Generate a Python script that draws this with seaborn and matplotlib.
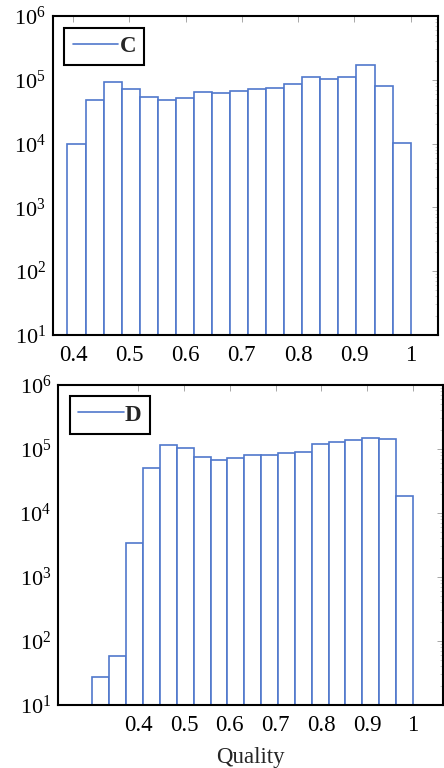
import numpy as np
import pandas as pd
import matplotlib
matplotlib.use("Agg")
import matplotlib.pyplot as plt
from matplotlib.lines import Line2D
from matplotlib.ticker import LogLocator, NullFormatter
import seaborn as sns

# Histogram counts per quality bin
c_edges = np.linspace(0.39, 1.0, 20)
c_counts = [1.0e4, 4.9e4, 9.2e4, 7.1e4, 5.4e4, 4.9e4, 5.2e4, 6.5e4, 6.2e4, 6.6e4,
            7.2e4, 7.5e4, 8.6e4, 1.09e5, 1.03e5, 1.12e5, 1.7e5, 7.9e4, 1.03e4]

d_edges = np.linspace(0.30, 1.0, 20)
d_counts = [27, 58, 3.4e3, 5.0e4, 1.13e5, 1.02e5, 7.4e4, 6.7e4, 7.3e4, 8.0e4,
            8.1e4, 8.5e4, 8.9e4, 1.21e5, 1.28e5, 1.35e5, 1.5e5, 1.42e5, 1.86e4]

x_ticks = [0.4, 0.5, 0.6, 0.7, 0.8, 0.9, 1.0]
x_tick_labels = ["0.4", "0.5", "0.6", "0.7", "0.8", "0.9", "1"]

sns.set_theme(style="white")
plt.rcParams["font.family"] = ["Liberation Serif", "DejaVu Serif"]
plt.rcParams["mathtext.fontset"] = "custom"
plt.rcParams["mathtext.rm"] = "Liberation Serif"
plt.rcParams["mathtext.default"] = "regular"

BLUE = "#5078cc"
FS = 16.5

fig = plt.figure(figsize=(4.44, 7.68), dpi=100)
ax_c = fig.add_axes([0.119, 0.564, 0.868, 0.415])
ax_d = fig.add_axes([0.131, 0.082, 0.866, 0.417])


def draw_panel(ax, edges, counts, label, xlim):
    centers = (edges[:-1] + edges[1:]) / 2
    df = pd.DataFrame({"quality": centers, "count": np.asarray(counts, dtype=float)})
    sns.histplot(data=df, x="quality", weights="count", bins=list(edges), ax=ax,
                 stat="count", element="bars", fill=True,
                 facecolor="white", edgecolor=BLUE, linewidth=1.2, alpha=1)
    ax.set_yscale("log")
    ax.set_ylim(10, 1e6)
    ax.set_xlim(*xlim)
    ax.set_xticks(x_ticks)
    ax.set_xticklabels(x_tick_labels)
    ax.yaxis.set_major_locator(LogLocator(base=10, numticks=10))
    ax.yaxis.set_minor_locator(LogLocator(base=10, subs=np.arange(2, 10), numticks=50))
    ax.yaxis.set_minor_formatter(NullFormatter())
    ax.set_ylabel("")
    ax.set_xlabel("")
    ax.tick_params(axis="both", which="both", direction="in", top=True, right=True,
                   labelsize=FS, colors="black")
    ax.tick_params(axis="both", which="major", length=4, width=0.6, color="#999999",
                   labelcolor="black")
    ax.tick_params(axis="x", which="major", pad=7)
    ax.tick_params(axis="y", which="major", pad=5, labelsize=FS - 0.5)
    ax.tick_params(axis="y", which="minor", length=2.5, width=0.5, color="#bbbbbb")
    for s in ax.spines.values():
        s.set_color("black")
        s.set_linewidth(1.5)
    handle = Line2D([0], [0], color=BLUE, linewidth=1.2)
    leg = ax.legend([handle], [label], loc="upper left",
                    prop={"weight": "bold", "size": FS},
                    handlelength=2.0, handletextpad=0.05, borderpad=0.36,
                    borderaxespad=0.5, fancybox=False, framealpha=1,
                    edgecolor="black")
    leg.get_frame().set_linewidth(1.5)


draw_panel(ax_c, c_edges, c_counts, "C", (0.364, 1.049))
draw_panel(ax_d, d_edges, d_counts, "D", (0.225, 1.065))
ax_d.set_xlabel("Quality", fontsize=FS, labelpad=8)

fig.savefig("out.png", dpi=100)
